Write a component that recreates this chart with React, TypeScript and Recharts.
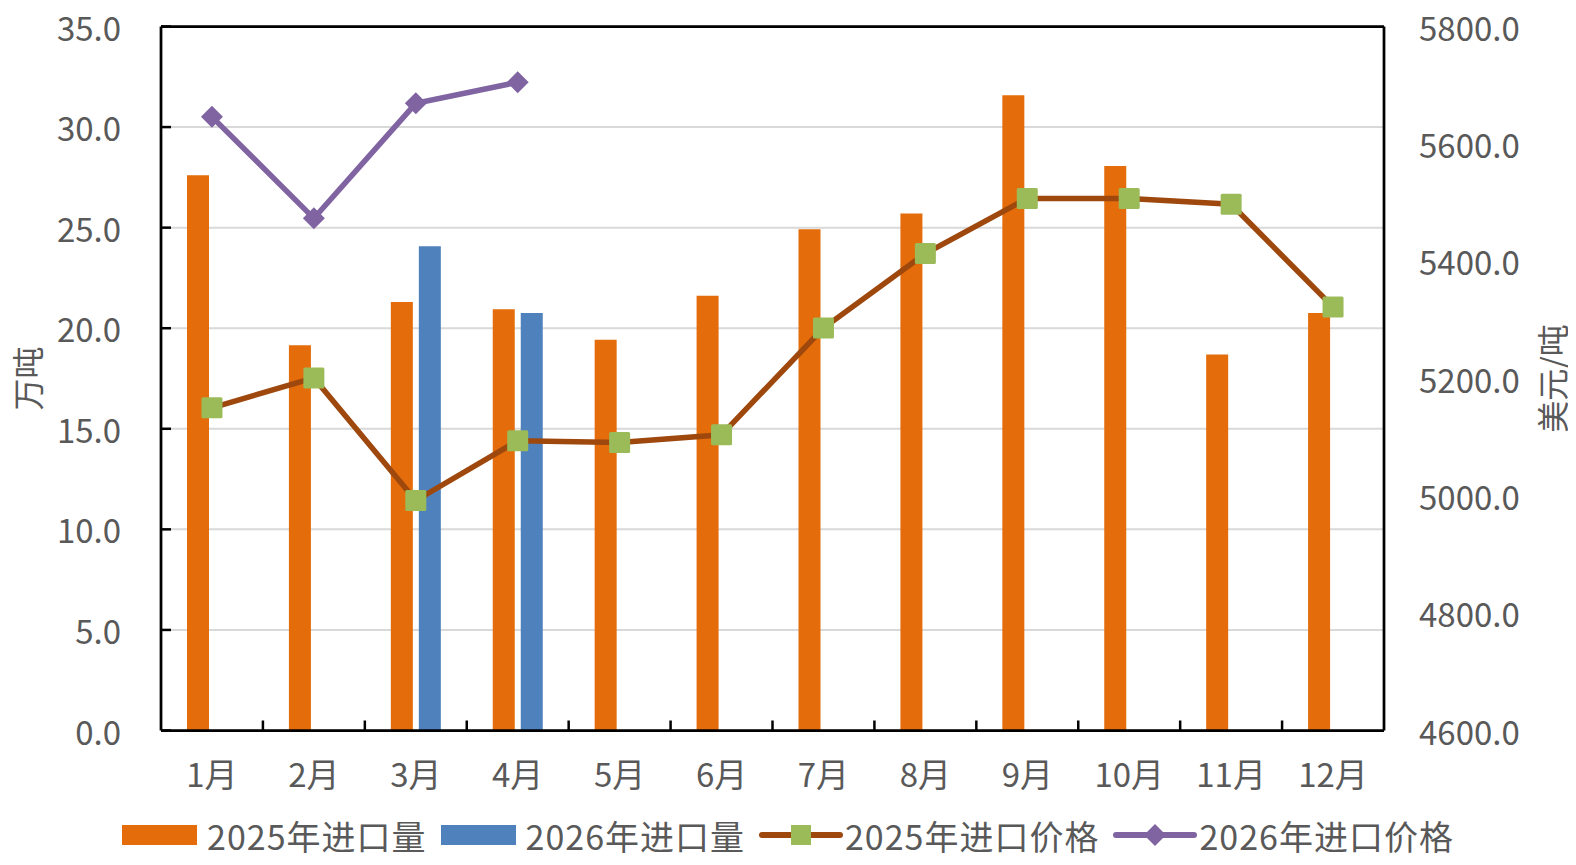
import React from 'react';
import { ComposedChart, Bar, Line, XAxis, YAxis, CartesianGrid, Legend, ReferenceLine, Label } from 'recharts';

const months = ['1月', '2月', '3月', '4月', '5月', '6月', '7月', '8月', '9月', '10月', '11月', '12月'];
const volume2025 = [27.6, 19.15, 21.3, 20.94, 19.43, 21.62, 24.92, 25.7, 31.58, 28.07, 18.69, 20.76];
const volume2026 = [null, null, 24.08, 20.76, null, null, null, null, null, null, null, null];
const price2025 = [5150, 5201, 4992, 5094, 5091, 5104, 5286, 5413, 5507, 5507, 5497, 5322];
const price2026 = [5646, 5473, 5669, 5705, null, null, null, null, null, null, null, null];

const leftTicks = [0, 5, 10, 15, 20, 25, 30, 35];
const rightTicks = [4600, 4800, 5000, 5200, 5400, 5600, 5800];

const seriesNames = ['2025年进口量', '2026年进口量', '2025年进口价格', '2026年进口价格'];

const data = months.map((month, i) => ({
  month,
  v2025: volume2025[i],
  v2026: volume2026[i],
  p2025: price2025[i],
  p2026: price2026[i],
}));

const W = 1560;
const H = 849;
const PLOT_LEFT = 153;
const PLOT_RIGHT = 1376;
const PLOT_MID_Y = 370.5;
const BAND = (PLOT_RIGHT - PLOT_LEFT) / months.length;

const TEXT = '#595959';
const FONT = '"Noto Sans CJK SC", "Noto Sans", sans-serif';
const ORANGE = '#E46C0A';
const BLUE = '#4F81BD';
const BROWN = '#9E480E';
const GREEN = '#9BBB59';
const PURPLE = '#8064A2';

const TICK_FONT = 33;
const LEFT_MARGIN = 40;
const RIGHT_MARGIN = 35;

const LeftTick = ({ x, y, payload }: any) => {
  const ax = x + LEFT_MARGIN;
  return (
    <g>
      <line x1={ax} x2={ax + 10} y1={y} y2={y} stroke="#000" strokeWidth={2.5} />
      <text x={x} y={y} textAnchor="end" dominantBaseline="central" fill={TEXT} fontSize={TICK_FONT}>
        {Number(payload.value).toFixed(1)}
      </text>
    </g>
  );
};

const RightTick = ({ x, y, payload }: any) => (
  <text x={x} y={y} textAnchor="start" dominantBaseline="central" fill={TEXT} fontSize={TICK_FONT}>
    {Number(payload.value).toFixed(1)}
  </text>
);

const XTick = ({ x, y, payload, index }: any) => (
  <g>
    {index > 0 && (
      <line x1={x - BAND / 2} x2={x - BAND / 2} y1={y} y2={y - 10} stroke="#000" strokeWidth={2.5} />
    )}
    <text x={x} y={y + 42} textAnchor="middle" dominantBaseline="central" fill={TEXT} fontSize={TICK_FONT}>
      {payload.value}
    </text>
  </g>
);

const SquareDot = ({ cx, cy }: any) => {
  if (cx == null || cy == null) return <g />;
  return <rect x={cx - 10.5} y={cy - 10.5} width={21} height={21} rx={1.5} fill={GREEN} />;
};

const DiamondDot = ({ cx, cy }: any) => {
  if (cx == null || cy == null) return <g />;
  const r = 11;
  return <polygon points={`${cx},${cy - r} ${cx + r},${cy} ${cx},${cy + r} ${cx - r},${cy}`} fill={PURPLE} />;
};

const AxisTitle = ({ title, titleX }: any) => (
  <text
    x={titleX}
    y={PLOT_MID_Y}
    transform={`rotate(-90 ${titleX} ${PLOT_MID_Y})`}
    textAnchor="middle"
    dominantBaseline="central"
    fill={TEXT}
    fontSize={32}
  >
    {title}
  </text>
);

const LegendSymbol = ({ kind, color }: any) => {
  if (kind === 'bar') {
    return (
      <svg width={75} height={22} style={{ marginRight: 10 }}>
        <rect x={0} y={1} width={75} height={20} fill={color} />
      </svg>
    );
  }
  const cx = 42;
  const cy = 11;
  return (
    <svg width={84} height={22} style={{ marginRight: 2 }}>
      <line x1={3} x2={81} y1={cy} y2={cy} stroke={color} strokeWidth={6} strokeLinecap="round" />
      {kind === 'square' ? (
        <rect x={cx - 10} y={cy - 10} width={20} height={20} fill={GREEN} />
      ) : (
        <polygon points={`${cx},${cy - 11} ${cx + 11},${cy} ${cx},${cy + 11} ${cx - 11},${cy}`} fill={PURPLE} />
      )}
    </svg>
  );
};

const legendKinds = [
  { kind: 'bar', color: ORANGE },
  { kind: 'bar', color: BLUE },
  { kind: 'square', color: BROWN },
  { kind: 'diamond', color: PURPLE },
];

const LegendContent = () => (
  <div
    style={{
      display: 'flex',
      justifyContent: 'center',
      alignItems: 'center',
      height: 44,
      color: TEXT,
      fontSize: 34,
      letterSpacing: 1,
      fontFamily: FONT,
      whiteSpace: 'nowrap',
    }}
  >
    {seriesNames.map((name, i) => (
      <div key={name} style={{ display: 'flex', alignItems: 'center', marginRight: i < 3 ? 14 : 0 }}>
        <LegendSymbol kind={legendKinds[i].kind} color={legendKinds[i].color} />
        <span>{name}</span>
      </div>
    ))}
  </div>
);

export default function App() {
  return (
    <div style={{ width: W, height: H, fontFamily: FONT, background: '#fff' }}>
      <style>{'.recharts-surface{overflow:visible}'}</style>
      <ComposedChart
        width={W}
        height={H}
        data={data}
        margin={{ top: 18.5, right: 0, bottom: 0, left: 0 }}
        barGap={6}
      >
        <CartesianGrid yAxisId="left" vertical={false} stroke="#D9D9D9" strokeWidth={2} />
        <XAxis
          dataKey="month"
          interval={0}
          height={82.5}
          tickSize={0}
          tickMargin={0}
          tick={<XTick />}
          axisLine={{ stroke: '#000', strokeWidth: 2.75 }}
          tickLine={false}
        />
        <YAxis
          yAxisId="left"
          orientation="left"
          width={153}
          domain={[0, 35]}
          ticks={leftTicks}
          tickSize={0}
          tickMargin={LEFT_MARGIN}
          tick={<LeftTick />}
          axisLine={{ stroke: '#000', strokeWidth: 2.75 }}
          tickLine={false}
          label={<Label content={<AxisTitle title="万吨" titleX={17.5} />} />}
        />
        <YAxis
          yAxisId="right"
          orientation="right"
          width={184}
          domain={[4600, 5800]}
          ticks={rightTicks}
          tickSize={0}
          tickMargin={RIGHT_MARGIN}
          tick={<RightTick />}
          axisLine={{ stroke: '#000', strokeWidth: 2.75 }}
          tickLine={false}
          label={<Label content={<AxisTitle title="美元/吨" titleX={1543} />} />}
        />
        <ReferenceLine yAxisId="left" y={35} stroke="#000" strokeWidth={2.75} />
        <Bar yAxisId="left" dataKey="v2025" name={seriesNames[0]} fill={ORANGE} barSize={22} isAnimationActive={false} />
        <Bar yAxisId="left" dataKey="v2026" name={seriesNames[1]} fill={BLUE} barSize={22} isAnimationActive={false} />
        <Line
          yAxisId="right"
          dataKey="p2025"
          name={seriesNames[2]}
          stroke={BROWN}
          strokeWidth={5.5}
          dot={<SquareDot />}
          activeDot={false}
          isAnimationActive={false}
        />
        <Line
          yAxisId="right"
          dataKey="p2026"
          name={seriesNames[3]}
          stroke={PURPLE}
          strokeWidth={5.5}
          dot={<DiamondDot />}
          activeDot={false}
          isAnimationActive={false}
        />
        <Legend verticalAlign="bottom" content={<LegendContent />} />
      </ComposedChart>
    </div>
  );
}
